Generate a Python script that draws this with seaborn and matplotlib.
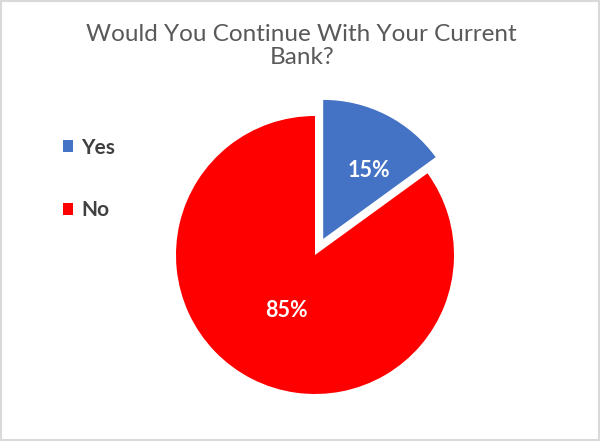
import numpy as np
import matplotlib
matplotlib.use("Agg")
import matplotlib.pyplot as plt
import seaborn as sns
from matplotlib.patches import Patch, Rectangle

# chart data
categories = ["Yes", "No"]
shares = [15, 85]
colors = ["#4472C4", "#FF0000"]
title = "Would You Continue With Your Current\nBank?"

sns.set_theme(style="white")
plt.rcParams["font.family"] = ["Lato", "DejaVu Sans"]

fig = plt.figure(figsize=(6, 4.41), dpi=100)
fig.patch.set_facecolor("white")

# pie axes: centre at (315, 186) px from bottom-left, radius 139 px
R = 139
ax = fig.add_axes([(315 - R) / 600, (186 - R) / 441, 2 * R / 600, 2 * R / 441])
wedges, texts, autotexts = ax.pie(
    shares, colors=colors, startangle=90, counterclock=False,
    explode=[0.13, 0], autopct="%1.0f%%", pctdistance=0.6,
    textprops=dict(color="white", fontsize=15.5, fontweight="bold"),
)
ax.set_xlim(-1, 1)
ax.set_ylim(-1, 1)
for w in wedges:
    w.set_clip_on(False)
    w.set_linewidth(0)

# label placement like Excel's: (distance, angle shift) from the wedge centre
label_spots = [(0.59, -7), (0.45, 0)]
for w, t, (d, shift) in zip(wedges, autotexts, label_spots):
    mid = np.deg2rad((w.theta1 + w.theta2) / 2 + shift)
    cx, cy = w.center
    t.set_position((cx + d * np.cos(mid), cy + d * np.sin(mid)))

fig.text(0.503, 1 - 24 / 441, title, ha="center", va="top",
         fontsize=17.5, color="#595959", linespacing=1.14)

handles = [Patch(facecolor=c, edgecolor="none") for c in colors]
leg = fig.legend(handles, categories, loc="upper left",
                 bbox_to_anchor=(44 / 600, 1 - 119 / 441), frameon=False,
                 prop=dict(size=15, weight="bold"), labelcolor="#404040",
                 handlelength=0.5, handleheight=0.5, handletextpad=0.4,
                 labelspacing=2.05)

# light grey border round the whole picture
fig.patches.append(Rectangle((0.002, 0.002), 0.996, 0.996, transform=fig.transFigure,
                             fill=False, edgecolor="#D9D9D9", linewidth=1.5))

fig.savefig("out.png", dpi=100)
